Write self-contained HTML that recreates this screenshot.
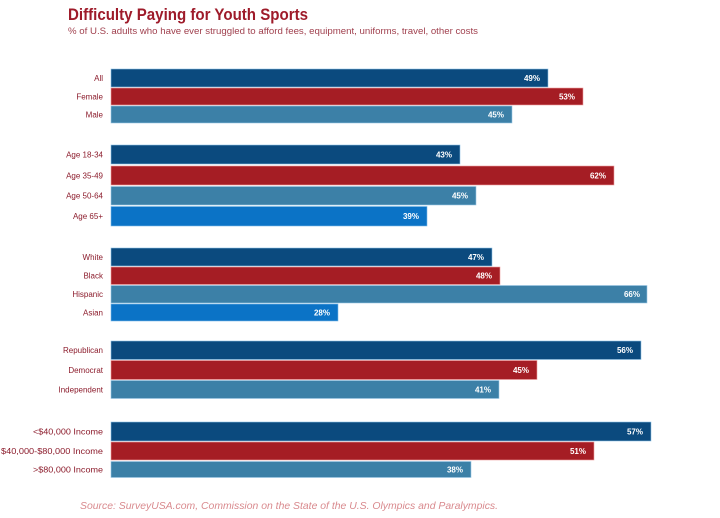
<!DOCTYPE html>
<html><head><meta charset="utf-8"><style>
html,body{margin:0;padding:0;background:#fff;}
svg{display:block;}
</style></head><body>
<svg width="720" height="518" viewBox="0 0 720 518" xmlns="http://www.w3.org/2000/svg" font-family="Liberation Sans, sans-serif">
<rect width="720" height="518" fill="#fff"/>
<text x="68" y="20" font-size="17" font-weight="bold" fill="#9e1b2a" textLength="240" lengthAdjust="spacingAndGlyphs">Difficulty Paying for Youth Sports</text>
<text x="68" y="34" font-size="9" fill="#a0404e" textLength="410" lengthAdjust="spacingAndGlyphs">% of U.S. adults who have ever struggled to afford fees, equipment, uniforms, travel, other costs</text>

<g id="bars">
<rect x="111" y="69" width="437" height="18" fill="#0b4a7e" stroke="#8fc3e6" stroke-width="0.6"/>
<rect x="111" y="88" width="472" height="17" fill="#a51d24" stroke="#f0a0a0" stroke-width="0.6"/>
<rect x="111" y="106" width="401" height="17" fill="#3c80a7" stroke="#9cc8e4" stroke-width="0.6"/>
<rect x="111" y="145" width="349" height="19" fill="#0b4a7e" stroke="#8fc3e6" stroke-width="0.6"/>
<rect x="111" y="166" width="503" height="19" fill="#a51d24" stroke="#f0a0a0" stroke-width="0.6"/>
<rect x="111" y="186.5" width="365" height="18.5" fill="#3c80a7" stroke="#9cc8e4" stroke-width="0.6"/>
<rect x="111" y="206.5" width="316" height="19.5" fill="#0b73c6" stroke="#7dbbea" stroke-width="0.6"/>
<rect x="111" y="248" width="381" height="18" fill="#0b4a7e" stroke="#8fc3e6" stroke-width="0.6"/>
<rect x="111" y="267" width="389" height="17.5" fill="#a51d24" stroke="#f0a0a0" stroke-width="0.6"/>
<rect x="111" y="285.5" width="536" height="17.5" fill="#3c80a7" stroke="#9cc8e4" stroke-width="0.6"/>
<rect x="111" y="304" width="227" height="17" fill="#0b73c6" stroke="#7dbbea" stroke-width="0.6"/>
<rect x="111" y="341" width="530" height="18.5" fill="#0b4a7e" stroke="#8fc3e6" stroke-width="0.6"/>
<rect x="111" y="360.5" width="426" height="19" fill="#a51d24" stroke="#f0a0a0" stroke-width="0.6"/>
<rect x="111" y="380.5" width="388" height="18" fill="#3c80a7" stroke="#9cc8e4" stroke-width="0.6"/>
<rect x="111" y="422" width="540" height="19" fill="#0b4a7e" stroke="#8fc3e6" stroke-width="0.6"/>
<rect x="111" y="442" width="483" height="18" fill="#a51d24" stroke="#f0a0a0" stroke-width="0.6"/>
<rect x="111" y="461.5" width="360" height="16" fill="#3c80a7" stroke="#9cc8e4" stroke-width="0.6"/>
</g>

<g font-size="8" fill="#8c1c2c" text-anchor="end">
<text x="103" y="80.8">All</text>
<text x="103" y="99.3">Female</text>
<text x="103" y="117.3">Male</text>
<text x="103" y="157.3">Age 18-34</text>
<text x="103" y="178.3">Age 35-49</text>
<text x="103" y="198.6">Age 50-64</text>
<text x="103" y="219">Age 65+</text>
<text x="103" y="259.8">White</text>
<text x="103" y="278.5">Black</text>
<text x="103" y="297">Hispanic</text>
<text x="103" y="315.3">Asian</text>
<text x="103" y="353">Republican</text>
<text x="103" y="372.8">Democrat</text>
<text x="103" y="392.3">Independent</text>
</g>
<g font-size="8" fill="#8c1c2c">
<text x="33" y="434.3" textLength="70" lengthAdjust="spacingAndGlyphs">&lt;$40,000 Income</text>
<text x="1" y="453.8" textLength="102" lengthAdjust="spacingAndGlyphs">$40,000-$80,000 Income</text>
<text x="33" y="472.3" textLength="70" lengthAdjust="spacingAndGlyphs">&gt;$80,000 Income</text>
</g>

<g font-size="8" font-weight="bold" fill="#fff" text-anchor="end">
<text x="540" y="80.8">49%</text>
<text x="575" y="99.3">53%</text>
<text x="504" y="117.3">45%</text>
<text x="452" y="157.3">43%</text>
<text x="606" y="178.3">62%</text>
<text x="468" y="198.6">45%</text>
<text x="419" y="219">39%</text>
<text x="484" y="259.8">47%</text>
<text x="492" y="278.5">48%</text>
<text x="640" y="297">66%</text>
<text x="330" y="315.3">28%</text>
<text x="633" y="353">56%</text>
<text x="529" y="372.8">45%</text>
<text x="491" y="392.3">41%</text>
<text x="643" y="434.3">57%</text>
<text x="586" y="453.8">51%</text>
<text x="463" y="472.3">38%</text>
</g>

<text x="80" y="509" font-size="10.5" font-style="italic" fill="#d98a8e" textLength="418" lengthAdjust="spacingAndGlyphs">Source: SurveyUSA.com, Commission on the State of the U.S. Olympics and Paralympics.</text>
</svg>
</body></html>
